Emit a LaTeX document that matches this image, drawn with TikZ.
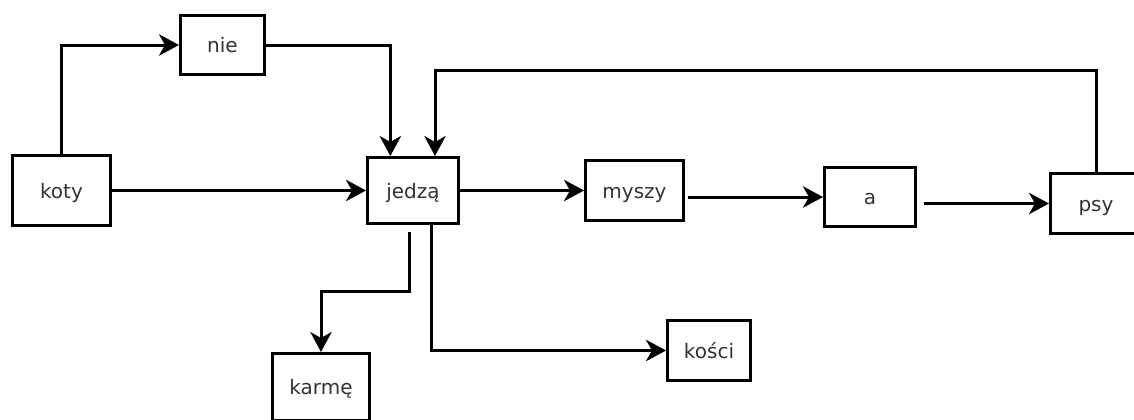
\documentclass[tikz,border=0pt]{standalone}
\usepackage{fontspec}
\setmainfont{DejaVu Sans}
\usetikzlibrary{arrows.meta}

\begin{document}
\begin{tikzpicture}[x=0.75pt, y=-0.75pt,
    word/.style={draw, line width=2.25pt, inner sep=0pt, text=black!80,
        text height=1.4em, text depth=0.25em, font=\fontsize{15}{18}\selectfont},
    arr/.style={line width=2.25pt, -{Stealth[length=15pt, width=16pt, inset=4.5pt]}}]
            \useasboundingbox (0,0) rectangle (1134,419);
            \clip (0,0) rectangle (1134,419);

            \node (koty) at (61.5,190.5)[word, minimum width=73.5pt, minimum height=52.5pt]{koty};
            \node (nie) at (222.5,45)[word, minimum width=63pt, minimum height=44.25pt]{nie};
            \node (jedza) at (413,190.5)[word, minimum width=68.25pt, minimum height=49.5pt]{jedzą};
            \node (myszy) at (634.5,190.5)[word, minimum width=73.5pt, minimum height=45pt]{myszy};
            \node (a) at (870,197)[word, minimum width=68.25pt, minimum height=44.25pt]{a};
            \node (psy) at (1096,203.5)[word, minimum width=68.25pt, minimum height=45pt]{psy};
            \node (karme) at (321,387)[word, minimum width=72.75pt, minimum height=50.25pt]{karmę};
            \node (kosci) at (709,350.5)[word, minimum width=62.25pt, minimum height=45pt]{kości};

            % main line of the sentence
            \draw[arr] (koty.east) -- (jedza.west);
            \draw[arr] (jedza.east) -- (myszy.west);
            \draw[arr, shorten <=2pt] (myszy.east |- a.west) -- (a.west);
            \draw[arr, shorten <=5pt] (a.east |- psy.west) -- (psy.west);

            % detours above
            \draw[arr] (koty.north) |- (nie.west);
            \draw[arr] (nie.east) -| ([xshift=-17pt]jedza.north);
            \draw[arr] (psy.north) -- ++(0,-102) -| ([xshift=16.5pt]jedza.north);

            % branches below
            \draw[arr, shorten <=5pt] ([xshift=-3pt]jedza.south) -- ++(0,66) -| (karme.north);
            \draw[arr] ([xshift=14pt]jedza.south) |- (kosci.west);
        \end{tikzpicture}
\end{document}
